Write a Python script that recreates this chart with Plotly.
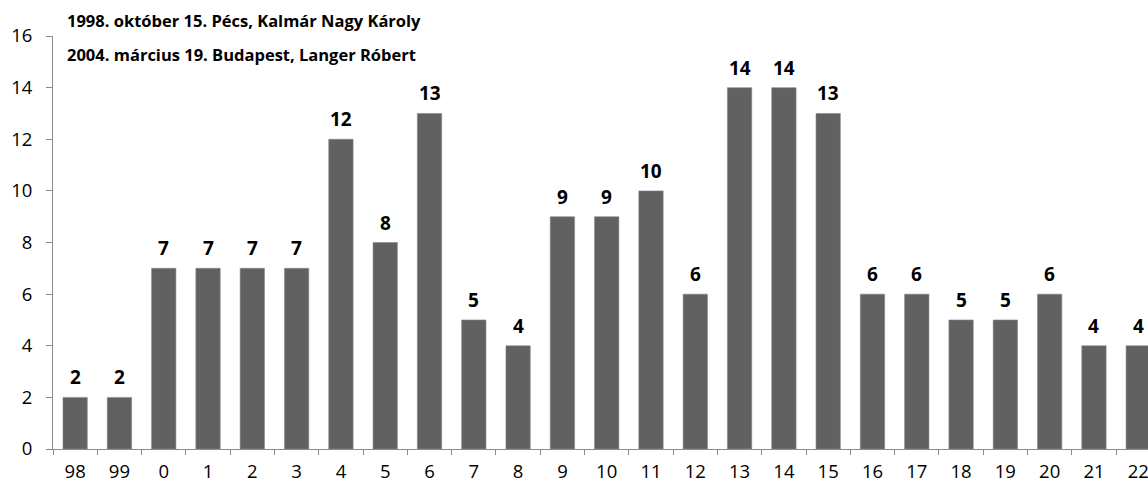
import plotly.graph_objects as go

# Yearly counts, 1998 to 2022 (two-digit year labels)
years = ["98", "99", "0", "1", "2", "3", "4", "5", "6", "7", "8", "9", "10",
         "11", "12", "13", "14", "15", "16", "17", "18", "19", "20", "21", "22"]
counts = [2, 2, 7, 7, 7, 7, 12, 8, 13, 5, 4, 9, 9, 10, 6, 14, 14, 13, 6, 6,
          5, 5, 6, 4, 4]
notes = ["1998. október 15. Pécs, Kalmár Nagy Károly",
         "2004. március 19. Budapest, Langer Róbert"]
y_ticks = [0, 2, 4, 6, 8, 10, 12, 14, 16]

font_family = "'Open Sans', Lato, sans-serif"
plot_h = 413  # plot area height in px

fig = go.Figure(go.Bar(
    x=years,
    y=counts,
    marker=dict(color="#616161", line=dict(color="#8a8a8a", width=0.6)),
    hoverinfo="x+y",
))

# value labels above each bar (x given as category index)
for idx, v in enumerate(counts):
    fig.add_annotation(
        x=idx, y=v, text=f"<b>{v}</b>", showarrow=False,
        yanchor="bottom", yshift=5,
        font=dict(family=font_family, size=19, color="#000000"),
    )

# notes in the top-left corner
for i, note in enumerate(notes):
    fig.add_annotation(
        text=f"<b>{note}</b>", xref="paper", yref="paper",
        x=0.011, y=1 + (16 - 34.5 * i) / plot_h, xanchor="left", yanchor="middle",
        showarrow=False,
        font=dict(family=font_family, size=16.5, color="#000000"),
    )

fig.update_layout(
    width=1148, height=487,
    margin=dict(l=53, r=0, t=36, b=38),
    paper_bgcolor="white", plot_bgcolor="white",
    bargap=0.45, showlegend=False,
    font=dict(family=font_family, size=18, color="#000000"),
)
fig.update_xaxes(
    type="category", range=[-0.5, 24.22], automargin=False,
    showline=True, linecolor="#8c8c8c", linewidth=1,
    ticks="outside", tickson="boundaries", ticklen=5, tickcolor="#8c8c8c",
    showgrid=False, tickfont=dict(size=18.5), ticklabelstandoff=6,
)
fig.update_yaxes(
    range=[0, 16], tickvals=y_ticks, automargin=False,
    showline=True, linecolor="#8c8c8c", linewidth=1,
    ticks="outside", ticklen=6, tickcolor="#8c8c8c",
    showgrid=False, zeroline=False, tickfont=dict(size=18.5), ticklabelstandoff=10,
)

fig.write_html("out.html")
